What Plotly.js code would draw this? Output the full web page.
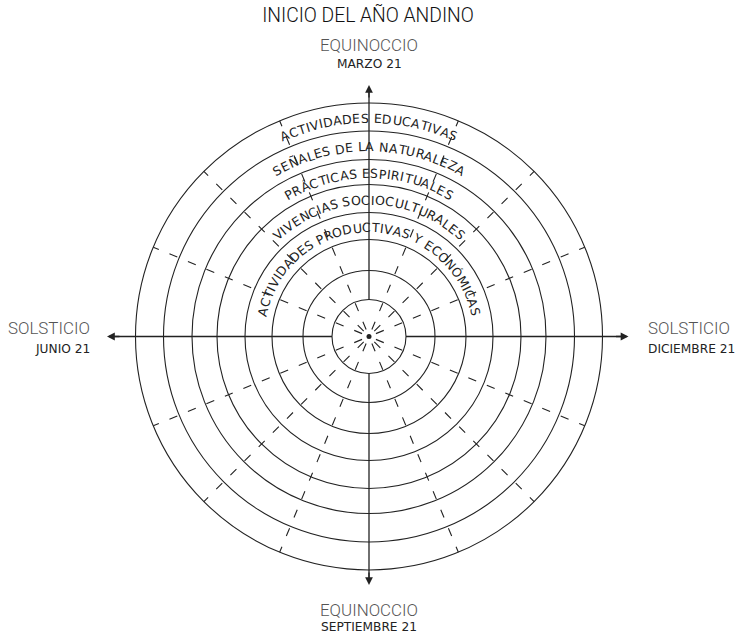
<!DOCTYPE html>
<html><head><meta charset="utf-8">
<script src="https://cdn.plot.ly/plotly-3.0.1.min.js"></script>
<style>html,body{margin:0;padding:0;background:#fff}</style>
</head><body><div id="chart" style="width:736px;height:636px"></div>
<script>
// ---- data ----
const chartTitle = "INICIO DEL AÑO ANDINO";
const ringRadii = [37, 66, 97, 124, 152, 177, 205.5, 233.5];
const bandLabels = ["ACTIVIDADES PRODUCTIVAS Y ECONÓMICAS", "VIVENCIAS SOCIOCULTURALES", "PRÁCTICAS ESPIRITUALES", "SEÑALES DE LA NATURALEZA", "ACTIVIDADES EDUCATIVAS"];
const eventNames = ["EQUINOCCIO", "SOLSTICIO", "EQUINOCCIO", "SOLSTICIO"];
const eventDates = ["MARZO 21", "DICIEMBRE 21", "SEPTIEMBRE 21", "JUNIO 21"];
const eventAngles = [90, 0, 270, 180];
const arrowReach = [251.5, 259.5, 248.5, 262];
const divisionAngles = [22.5, 45, 67.5, 112.5, 135, 157.5, 202.5, 225, 247.5, 292.5, 315, 337.5];

// ---- styling ----
const ink = '#222';
const ringFont = 'DejaVu Sans';
const ringFontSize = 12.5;
const tracking = 0.6;
const rad = d => d * Math.PI / 180;

const traces = [];
const shapes = [];
const annotations = [];

// rings
ringRadii.forEach(r => shapes.push({type: 'circle', xref: 'x', yref: 'y', x0: -r, x1: r, y0: -r, y1: r, line: {color: ink, width: 1.1}}));

// dashed divisions
divisionAngles.forEach(a => {
  const r0 = 7.5, r1 = ringRadii[ringRadii.length - 1];
  traces.push({type: 'scatter', mode: 'lines', hoverinfo: 'skip', showlegend: false,
    x: [r0 * Math.cos(rad(a)), r1 * Math.cos(rad(a))], y: [r0 * Math.sin(rad(a)), r1 * Math.sin(rad(a))],
    line: {color: ink, width: 1.1, dash: '8.5px,11.5px'}});
});

// axes with arrows
eventAngles.forEach((a, i) => {
  const r0 = ringRadii[0], r1 = arrowReach[i];
  const c = Math.cos(rad(a)), s = Math.sin(rad(a));
  traces.push({type: 'scatter', mode: 'lines', hoverinfo: 'skip', showlegend: false,
    x: [r0 * c, (r1 - 4) * c], y: [r0 * s, (r1 - 4) * s], line: {color: ink, width: 1.3}});
  annotations.push({xref: 'x', yref: 'y', axref: 'x', ayref: 'y', x: r1 * c, y: r1 * s,
    ax: (r1 - 14) * c, ay: (r1 - 14) * s, text: '', showarrow: true, arrowhead: 2, arrowsize: 1.2, arrowwidth: 1.3, arrowcolor: ink, standoff: 0, startstandoff: 0});
});

// center dot
traces.push({type: 'scatter', mode: 'markers', x: [0], y: [0], hoverinfo: 'skip', showlegend: false, marker: {color: ink, size: 5}});

// curved band labels
const ctx = document.createElement('canvas').getContext('2d');
ctx.font = ringFontSize + 'px "' + ringFont + '"';
bandLabels.forEach((label, i) => {
  const r = (ringRadii[i + 2] + ringRadii[i + 3]) / 2 - 1.5;
  const chars = Array.from(label);
  const widths = chars.map(ch => ctx.measureText(ch).width + tracking);
  const total = widths.reduce((p, q) => p + q, 0);
  let s = -total / 2;
  chars.forEach((ch, j) => {
    const mid = s + widths[j] / 2; s += widths[j];
    if (ch === ' ') return;
    const th = mid / r;
    annotations.push({xref: 'x', yref: 'y', x: r * Math.sin(th), y: r * Math.cos(th), text: ch, showarrow: false,
      textangle: th * 180 / Math.PI, xanchor: 'center', yanchor: 'middle', font: {family: ringFont, size: ringFontSize, color: ink}});
  });
});

// cardinal labels
const nameFont = {family: 'Roboto', size: 16.9, color: '#555', weight: 300};
const dateFont = {family: 'DejaVu Sans', size: 12.2, color: '#222'};
const labelPos = [
  {x: 0, yn: 291.5, yd: 272.5, anchor: 'center'},
  {x: 277, yn: 8.5, yd: -12.5, anchor: 'left'},
  {x: 0, yn: -273.5, yd: -290.5, anchor: 'center'},
  {x: -277, yn: 8.5, yd: -12.5, anchor: 'right'}
];
eventNames.forEach((n, i) => {
  const p = labelPos[i];
  annotations.push({xref: 'x', yref: 'y', x: p.x, y: p.yn, text: n, showarrow: false, xanchor: p.anchor, yanchor: 'middle', font: nameFont});
  annotations.push({xref: 'x', yref: 'y', x: p.x, y: p.yd, text: eventDates[i], showarrow: false, xanchor: p.anchor, yanchor: 'middle', font: dateFont});
});

const layout = {
  width: 736, height: 636, margin: {l: 0, r: 0, t: 0, b: 0}, autosize: false,
  paper_bgcolor: '#fff', plot_bgcolor: '#fff', showlegend: false,
  title: {text: chartTitle, x: 0.5, xanchor: 'center', y: 1 - 15 / 636, yanchor: 'middle', font: {family: 'Roboto', size: 19.3, color: '#111', weight: 300}},
  xaxis: {range: [-369, 367], visible: false, fixedrange: true},
  yaxis: {range: [-299.5, 336.5], visible: false, fixedrange: true},
  shapes: shapes, annotations: annotations
};
Plotly.newPlot('chart', traces, layout, {staticPlot: true, displayModeBar: false});
</script></body></html>
